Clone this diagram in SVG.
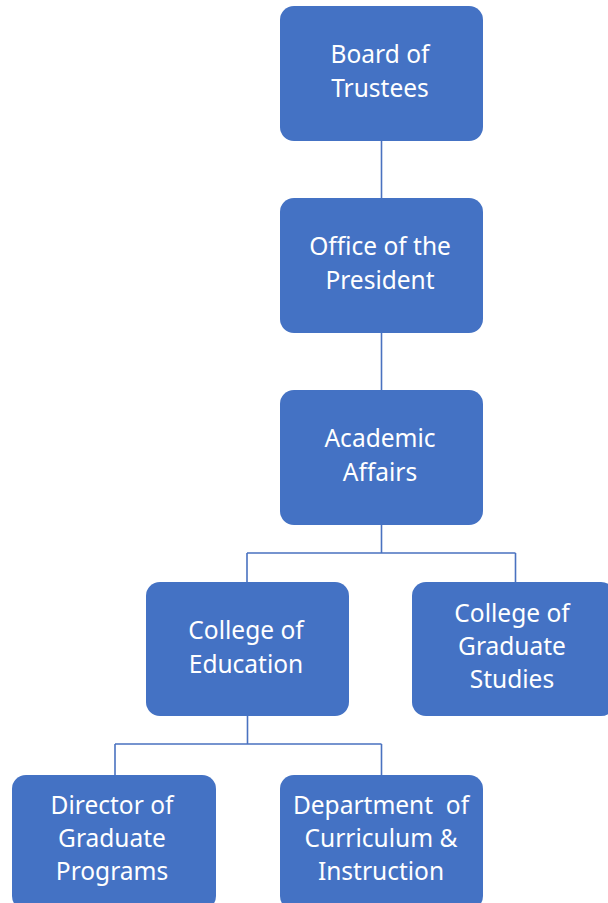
<svg xmlns="http://www.w3.org/2000/svg" width="608" height="903" viewBox="0 0 608 903">
  <style>
    .box { fill: #4472C4; }
    .lbl { fill: #FFFFFF; font-family: "Noto Sans", "Open Sans", sans-serif; font-size: 24.5px; text-anchor: middle; }
    .link { fill: none; stroke: #4A72C0; stroke-width: 1.6; }
  </style>
  <rect width="608" height="903" fill="#FFFFFF"/>

  <!-- connectors -->
  <g id="connectors" class="link">
    <path d="M381.5 141 V198"/>
    <path d="M381.5 333 V390"/>
    <path d="M381.5 525 V553 M247 553 H515.5 M247 553 V582 M515.5 553 V582"/>
    <path d="M247.5 716 V744 M115 744 H381.5 M115 744 V775 M381.5 744 V775"/>
  </g>

  <g id="board">
    <rect class="box" x="280" y="6" width="203" height="135" rx="14"/>
    <text class="lbl" x="380" y="63">Board of</text>
    <text class="lbl" x="380" y="97">Trustees</text>
  </g>

  <g id="president">
    <rect class="box" x="280" y="198" width="203" height="135" rx="14"/>
    <text class="lbl" x="380" y="255">Office of the</text>
    <text class="lbl" x="380" y="289">President</text>
  </g>

  <g id="academic-affairs">
    <rect class="box" x="280" y="390" width="203" height="135" rx="14"/>
    <text class="lbl" x="380" y="447">Academic</text>
    <text class="lbl" x="380" y="481">Affairs</text>
  </g>

  <g id="college-education">
    <rect class="box" x="146" y="582" width="203" height="134" rx="14"/>
    <text class="lbl" x="246" y="639">College of</text>
    <text class="lbl" x="246" y="673">Education</text>
  </g>

  <g id="college-graduate">
    <rect class="box" x="412" y="582" width="203" height="134" rx="14"/>
    <text class="lbl" x="512" y="622">College of</text>
    <text class="lbl" x="512" y="655">Graduate</text>
    <text class="lbl" x="512" y="688">Studies</text>
  </g>

  <g id="director">
    <rect class="box" x="12" y="775" width="204" height="135" rx="14"/>
    <text class="lbl" x="112" y="814">Director of</text>
    <text class="lbl" x="112" y="847">Graduate</text>
    <text class="lbl" x="112" y="880">Programs</text>
  </g>

  <g id="department">
    <rect class="box" x="280" y="775" width="203" height="135" rx="14"/>
    <text class="lbl" x="381" y="814" xml:space="preserve">Department  of</text>
    <text class="lbl" x="381" y="847">Curriculum &amp;</text>
    <text class="lbl" x="381" y="880">Instruction</text>
  </g>
</svg>
